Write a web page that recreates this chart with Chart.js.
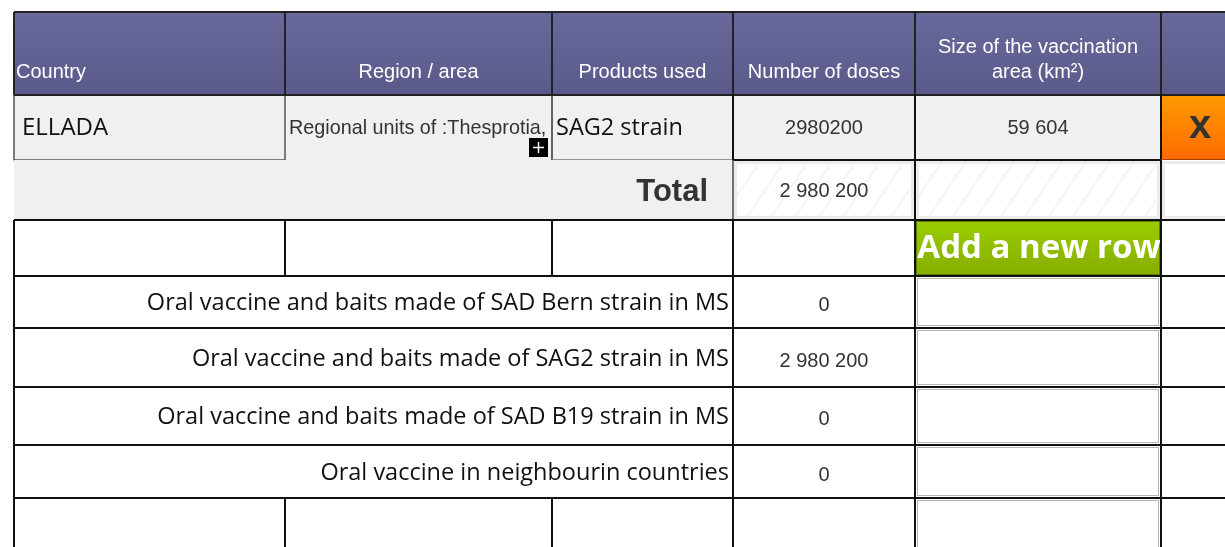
<!DOCTYPE html>
<html>
<head>
<meta charset="utf-8">
<script src="https://cdn.jsdelivr.net/npm/chart.js@4.4.1/dist/chart.umd.min.js"></script>
<style>
    html, body { margin: 0; padding: 0; background: #fff; overflow: hidden; }
    #wrap { width: 1225px; height: 547px; }
</style>
</head>
<body>
<div id="wrap"><canvas id="tableChart" width="1225" height="547"></canvas></div>
<script>
// Header labels
const headers = ['Country', 'Region / area', 'Products used', 'Number of doses', ['Size of the vaccination', 'area (km²)'], ''];

// Entered row
const countries = ['ELLADA'];
const regions = ['Regional units of :Thesprotia,'];
const products = ['SAG2 strain'];
const doses = [2980200];
const areas = [59604];
const totalDoses = 2980200;

// Doses per vaccine type
const strainLabels = [
    'Oral vaccine and baits made of SAD Bern strain in MS',
    'Oral vaccine and baits made of SAG2 strain in MS',
    'Oral vaccine and baits made of SAD B19 strain in MS',
    'Oral vaccine in neighbourin countries'
];
const strainDoses = [0, 2980200, 0, 0];

// Layout of the grid, in scale units
const tableLeft = 14, tableTop = 12;
const colWidths = [271, 267, 181, 182, 246, 80];
const rowHeights = [83, 65, 60, 56, 52, 59, 58, 53, 60];

const colEdges = [tableLeft];
colWidths.forEach(w => colEdges.push(colEdges[colEdges.length - 1] + w));
const rowEdges = [tableTop];
rowHeights.forEach(h => rowEdges.push(rowEdges[rowEdges.length - 1] + h));

function spaced(n) {
    return String(n).replace(/\B(?=(\d{3})+(?!\d))/g, ' ');
}

const SANS = '"Liberation Sans", Arial, sans-serif';
const OPEN = '"Open Sans", sans-serif';

const tablePlugin = {
    id: 'tablePlugin',
    afterDraw(chart) {
        const ctx = chart.ctx;
        const X = v => chart.scales.x.getPixelForValue(v);
        const Y = v => chart.scales.y.getPixelForValue(v);
        const cw = (c0, c1) => X(colEdges[c1]) - X(colEdges[c0]);
        const ry = r => Y(rowEdges[r]);

        function fillCell(c0, c1, r0, r1, style) {
            ctx.fillStyle = style;
            ctx.fillRect(X(colEdges[c0]), ry(r0), cw(c0, c1), ry(r1) - ry(r0));
        }
        function grad(r0, r1, top, bottom) {
            const g = ctx.createLinearGradient(0, ry(r0), 0, ry(r1));
            g.addColorStop(0, top);
            g.addColorStop(1, bottom);
            return g;
        }
        function hline(y, x0, x1, color, w) {
            ctx.strokeStyle = color; ctx.lineWidth = w;
            ctx.beginPath(); ctx.moveTo(x0, y); ctx.lineTo(x1, y); ctx.stroke();
        }
        function vline(x, y0, y1, color, w) {
            ctx.strokeStyle = color; ctx.lineWidth = w;
            ctx.beginPath(); ctx.moveTo(x, y0); ctx.lineTo(x, y1); ctx.stroke();
        }
        function text(str, x, y, font, color, align) {
            ctx.font = font; ctx.fillStyle = color; ctx.textAlign = align || 'left';
            ctx.textBaseline = 'alphabetic';
            ctx.fillText(str, x, y);
        }
        function midX(c) { return (X(colEdges[c]) + X(colEdges[c + 1])) / 2; }
        function inset(c, r, color, w, gap) {
            ctx.strokeStyle = color; ctx.lineWidth = w;
            ctx.strokeRect(X(colEdges[c]) + gap, ry(r) + gap, cw(c, c + 1) - 2 * gap, ry(r + 1) - ry(r) - 2 * gap);
        }

        const right = chart.width;
        ctx.save();

        // header
        fillCell(0, 6, 0, 1, grad(0, 1, '#68689c', '#5a5a8a'));
        headers.forEach((h, i) => {
            if (!h) return;
            if (Array.isArray(h)) {
                text(h[0], midX(i), ry(0) + 41, '20px ' + SANS, '#fff', 'center');
                text(h[1], midX(i), ry(0) + 66, '20px ' + SANS, '#fff', 'center');
            } else if (i === 0) {
                text(h, X(colEdges[0]) + 2, ry(0) + 66, '20px ' + SANS, '#fff', 'left');
            } else {
                text(h, midX(i), ry(0) + 66, '20px ' + SANS, '#fff', 'center');
            }
        });
        hline(ry(0), X(colEdges[0]), right, '#222', 2);
        for (let c = 1; c < 6; c++) vline(X(colEdges[c]), ry(0), ry(1), '#222', 2);
        vline(X(colEdges[0]), ry(0), ry(1), '#222', 2);

        // entered row
        fillCell(0, 5, 1, 2, '#f0f0f0');
        fillCell(5, 6, 1, 2, grad(1, 2, '#ff9a00', '#ff6a00'));
        text(countries[0], X(colEdges[0]) + 8, ry(1) + 40, '24px ' + OPEN, '#111');
        text(regions[0], X(colEdges[1]) + 4, ry(1) + 39, '19.8px ' + SANS, '#333');
        text(products[0], X(colEdges[2]) + 4, ry(1) + 40, '23.5px ' + OPEN, '#111');
        text(String(doses[0]), midX(3), ry(1) + 39, '20px ' + SANS, '#333', 'center');
        text(spaced(areas[0]), midX(4), ry(1) + 39, '20px ' + SANS, '#333', 'center');
        text('x', midX(5) - 1, ry(1) + 43, 'bold 40px ' + SANS, '#333', 'center');
        // expand icon
        const px = X(colEdges[2]) - 23, py = ry(2) - 22;
        ctx.fillStyle = '#000';
        ctx.fillRect(px, py, 19, 19);
        hline(py + 9.5, px + 4, px + 15, '#fff', 1.5);
        vline(px + 9.5, py + 4, py + 15, '#fff', 1.5);
        // borders of the entered row
        ctx.strokeStyle = '#555'; ctx.lineWidth = 1.5;
        ctx.strokeRect(X(colEdges[0]), ry(1), cw(0, 1), ry(2) - ry(1));
        vline(X(colEdges[2]), ry(1), ry(2), '#333', 1.5);
        hline(ry(2), X(colEdges[2]), X(colEdges[3]), '#777', 1.5);
        hline(ry(1), X(colEdges[0]), right, '#222', 2);
        for (let c = 3; c < 6; c++) vline(X(colEdges[c]), ry(1), ry(2), '#111', 2);
        hline(ry(2) - 0.5, X(colEdges[5]), right, '#a04000', 1);

        // total row
        fillCell(0, 3, 2, 3, '#f0f0f0');
        text('Total', X(colEdges[3]) - 25, ry(2) + 41, 'bold 31px ' + SANS, '#333', 'right');
        [3, 4].forEach(c => {
            const x0 = X(colEdges[c]), x1 = X(colEdges[c + 1]), y0 = ry(2), y1 = ry(3);
            ctx.fillStyle = '#fff';
            ctx.fillRect(x0, y0, x1 - x0, y1 - y0);
            ctx.save();
            ctx.beginPath(); ctx.rect(x0, y0, x1 - x0, y1 - y0); ctx.clip();
            ctx.strokeStyle = '#e9e9e9'; ctx.lineWidth = 1;
            for (let x = x0 - 60; x < x1 + 20; x += 24) {
                ctx.beginPath(); ctx.moveTo(x, y1); ctx.lineTo(x + 40, y0); ctx.stroke();
            }
            ctx.restore();
            inset(c, 2, '#ececec', 3, 2.5);
        });
        text(spaced(totalDoses), midX(3), ry(2) + 37, '20px ' + SANS, '#333', 'center');
        fillCell(5, 6, 2, 3, '#fff');
        inset(5, 2, '#ebebeb', 3, 2.5);
        hline(ry(2), X(colEdges[3]), X(colEdges[5]), '#111', 2);
        vline(X(colEdges[3]), ry(2), ry(3), '#444', 1.5);
        vline(X(colEdges[4]), ry(2), ry(3), '#111', 2);
        vline(X(colEdges[5]), ry(2), ry(3), '#111', 2);

        // add row line
        const bx = X(colEdges[4]) + 1, by = ry(3) + 1, bw = cw(4, 5) - 2, bh = ry(4) - ry(3) - 2;
        ctx.fillStyle = grad(3, 4, '#9acd00', '#86ad00');
        ctx.fillRect(bx, by, bw, bh);
        ctx.strokeStyle = '#5b7d00'; ctx.lineWidth = 1;
        ctx.strokeRect(bx + 0.5, by + 0.5, bw - 1, bh - 1);
        ctx.save();
        ctx.beginPath(); ctx.rect(bx, by, bw, bh); ctx.clip();
        text('Add a new row', bx + bw / 2 + 1, ry(3) + 38, 'bold 33px ' + OPEN, '#fff', 'center');
        ctx.restore();

        // doses per vaccine type
        strainLabels.forEach((lab, i) => {
            const r = 4 + i;
            const base = (ry(r) + ry(r + 1)) / 2 + 8;
            text(lab, X(colEdges[3]) - 4, base, '23.5px ' + OPEN, '#111', 'right');
            text(spaced(strainDoses[i]), midX(3), base + 1, '20px ' + SANS, '#333', 'center');
            inset(4, r, '#b5b5b5', 1, 2.5);
        });
        inset(4, 8, '#b5b5b5', 1, 2.5);

        // grid lines of the lower block
        for (let r = 3; r <= 8; r++) hline(ry(r), X(colEdges[0]), right, '#111', 2);
        vline(X(colEdges[0]), ry(3), chart.height, '#111', 2);
        [1, 2].forEach(c => {
            vline(X(colEdges[c]), ry(3), ry(4), '#111', 2);
            vline(X(colEdges[c]), ry(8), chart.height, '#111', 2);
        });
        [3, 4, 5].forEach(c => vline(X(colEdges[c]), ry(3), chart.height, '#111', 2));

        ctx.restore();
    }
};

new Chart(document.getElementById('tableChart').getContext('2d'), {
    type: 'scatter',
    data: { datasets: [] },
    options: {
        responsive: false,
        animation: false,
        layout: { padding: 0 },
        plugins: { legend: { display: false }, tooltip: { enabled: false } },
        scales: {
            x: { type: 'linear', min: 0, max: 1225, display: false },
            y: { type: 'linear', min: 0, max: 547, reverse: true, display: false }
        }
    },
    plugins: [tablePlugin]
});
</script>
</body>
</html>
